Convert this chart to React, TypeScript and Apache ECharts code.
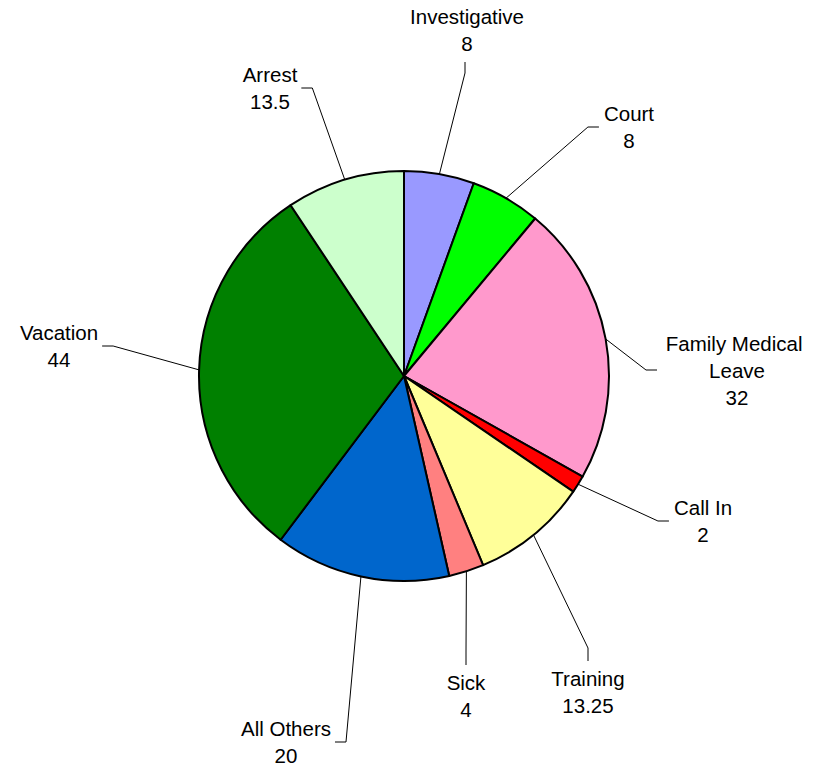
import React, { useEffect, useRef } from "react";
import * as echarts from "echarts";

const categories = [
  "Investigative",
  "Court",
  "Family Medical Leave",
  "Call In",
  "Training",
  "Sick",
  "All Others",
  "Vacation",
  "Arrest",
];
const values = [8, 8, 32, 2, 13.25, 4, 20, 44, 13.5];
const colors = [
  "#9999FF",
  "#00FF00",
  "#FF99CC",
  "#FF0000",
  "#FFFF99",
  "#FF8080",
  "#0066CC",
  "#008000",
  "#CCFFCC",
];

// label placement (layout only): label centre and the side where the leader line attaches
const labelPlacement: [number, number, string][] = [
  [467, 30, "bottom"],
  [629, 127, "left"],
  [737, 370, "left"],
  [703, 521, "left"],
  [588, 692, "top"],
  [466, 696, "top"],
  [286, 742, "right"],
  [59, 346, "right"],
  [270, 88, "right"],
];

export default function App() {
  const ref = useRef<HTMLDivElement>(null);
  useEffect(() => {
    if (!ref.current) return;
    const chart = echarts.init(ref.current, null, { renderer: "svg" });
    const data = categories.map((name, i) => ({
      name,
      value: values[i],
      itemStyle: { color: colors[i] },
      label: name === "Family Medical Leave" ? { width: 150, overflow: "break" } : undefined,
    }));
    chart.setOption({
      animation: false,
      backgroundColor: "#fff",
      series: [
        {
          type: "pie",
          center: [404, 376],
          radius: 205,
          startAngle: 90,
          clockwise: true,
          avoidLabelOverlap: false,
          data,
          itemStyle: { borderColor: "#000", borderWidth: 2 },
          label: {
            show: true,
            position: "outside",
            formatter: "{b}\n{c}",
            color: "#000",
            fontFamily: "Liberation Sans, Arial, sans-serif",
            fontSize: 20.5,
            lineHeight: 27,
            align: "center",
          },
          labelLine: {
            show: true,
            length: 20,
            length2: 10,
            lineStyle: { color: "#000", width: 1 },
          },
          emphasis: { disabled: true },
          labelLayout: (params: any) => {
            const p = labelPlacement[params.dataIndex];
            if (!p) return {};
            const [cx, cy, side] = p;
            const w = params.labelRect.width;
            const h = params.labelRect.height;
            const start = params.labelLinePoints
              ? params.labelLinePoints[0]
              : [cx, cy];
            let end: number[];
            let elbow: number[];
            if (side === "bottom") {
              end = [cx - 2, cy + h / 2 + 5];
              elbow = [end[0], end[1] + 11];
            } else if (side === "top") {
              end = [cx, cy - h / 2 - 4];
              elbow = [end[0], end[1] - 13];
            } else if (side === "left") {
              end = [cx - w / 2 - 5, cy];
              elbow = [end[0] - 11, end[1]];
            } else {
              end = [cx + w / 2 + 4, cy];
              elbow = [end[0] + 11, end[1]];
            }
            return {
              x: cx,
              y: cy,
              align: "center",
              verticalAlign: "middle",
              labelLinePoints: [start, elbow, end],
            };
          },
        },
      ],
    });
    return () => chart.dispose();
  }, []);
  return (
    <div
      ref={ref}
      style={{ position: "fixed", left: 0, top: 0, width: 829, height: 767 }}
    />
  );
}
